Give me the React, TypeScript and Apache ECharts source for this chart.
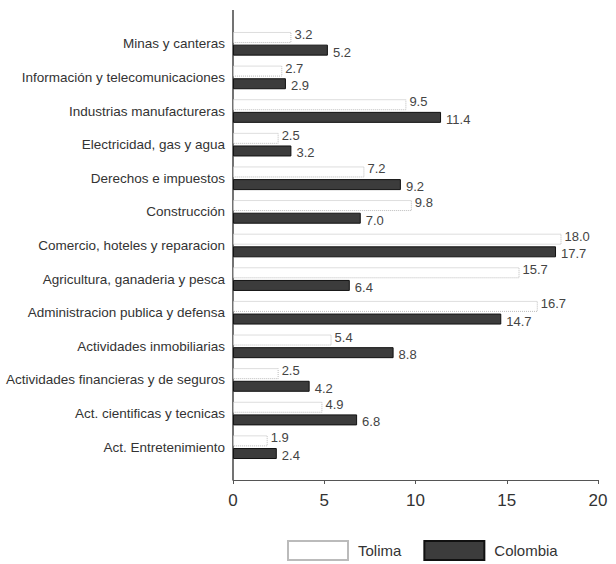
import React, { useEffect, useRef } from "react";
import * as echarts from "echarts";

const categories = [
  "Minas y canteras",
  "Información y telecomunicaciones",
  "Industrias manufactureras",
  "Electricidad, gas y agua",
  "Derechos e impuestos",
  "Construcción",
  "Comercio, hoteles y reparacion",
  "Agricultura, ganaderia y pesca",
  "Administracion publica y defensa",
  "Actividades inmobiliarias",
  "Actividades financieras y de seguros",
  "Act. cientificas y tecnicas",
  "Act. Entretenimiento",
];
const tolima = [3.2, 2.7, 9.5, 2.5, 7.2, 9.8, 18.0, 15.7, 16.7, 5.4, 2.5, 4.9, 1.9];
const colombia = [5.2, 2.9, 11.4, 3.2, 9.2, 7.0, 17.7, 6.4, 14.7, 8.8, 4.2, 6.8, 2.4];

const FONT = "'Liberation Sans Narrow', 'Liberation Sans', Arial, sans-serif";

export default function App() {
  const ref = useRef<HTMLDivElement>(null);
  useEffect(() => {
    if (!ref.current) return;
    const chart = echarts.init(ref.current, null, { renderer: "svg" });
    const GL = 233, GT = 27, GW = 365, GH = 437;
    chart.setOption({
      animation: false,
      backgroundColor: "#ffffff",
      textStyle: { fontFamily: FONT },
      grid: { left: GL, top: GT, width: GW, height: GH, containLabel: false },
      legend: {
        top: 535,
        left: 282,
        icon: "rect",
        itemWidth: 60,
        itemHeight: 19,
        itemGap: 22,
        textStyle: { fontSize: 15, color: "#333", fontFamily: FONT, padding: [0, 0, 0, 5] },
        data: ["Tolima", "Colombia"],
      },
      xAxis: {
        type: "value",
        min: 0,
        max: 20,
        interval: 5,
        offset: 16,
        axisLine: { show: true, lineStyle: { color: "#555", width: 1.2 } },
        axisTick: { show: true, length: 4, lineStyle: { color: "#555" } },
        splitLine: { show: false },
        axisLabel: { fontSize: 17, color: "#333", margin: 12, fontFamily: FONT },
      },
      yAxis: {
        type: "category",
        inverse: true,
        data: categories,
        axisLine: { show: false },
        axisTick: { show: false },
        axisLabel: { fontSize: 13.5, color: "#333", margin: 8, fontFamily: FONT },
      },
      graphic: [
        {
          type: "line",
          shape: { x1: GL, y1: 10, x2: GL, y2: GT + GH + 16 },
          style: { stroke: "#444", lineWidth: 1.5 },
        },
      ],
      series: [
        {
          name: "Tolima",
          type: "bar",
          data: tolima,
          barWidth: 11,
          barGap: "15%",
          itemStyle: { color: "#ffffff", borderColor: "#bbb", borderWidth: 1, borderType: "dotted" },
          label: {
            show: true,
            position: "right",
            distance: 3,
            offset: [0, -3],
            formatter: (p: any) => Number(p.value).toFixed(1),
            fontSize: 13,
            color: "#444",
            fontFamily: FONT,
          },
        },
        {
          name: "Colombia",
          type: "bar",
          data: colombia,
          barWidth: 11,
          itemStyle: { color: "#3c3c3c", borderColor: "#111", borderWidth: 1 },
          label: {
            show: true,
            position: "right",
            distance: 5,
            offset: [0, 2],
            formatter: (p: any) => Number(p.value).toFixed(1),
            fontSize: 13,
            color: "#444",
            fontFamily: FONT,
          },
        },
      ],
    });
    return () => chart.dispose();
  }, []);
  return (
    <div
      ref={ref}
      style={{ position: "fixed", left: 0, top: 0, width: 616, height: 564, background: "#fff" }}
    />
  );
}
